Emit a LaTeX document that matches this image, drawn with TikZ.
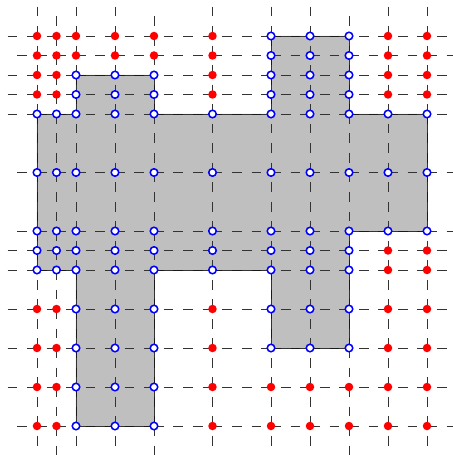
\documentclass[tikz,border=0pt]{standalone}
\usepackage{tikz}

\begin{document}
\begin{tikzpicture}[
	x = 0.5cm, y = -0.5cm,
	gridline/.style={black!80, line width=0.6pt, dash pattern=on 0.25cm off 0.25cm},
	region/.style={fill=black!25, draw=black!90, line width=0.7pt},
	inpt/.style={circle, draw=blue, fill=white, line width=1.1pt, inner sep=0pt, minimum size=5.5pt},
	outpt/.style={circle, fill=red, inner sep=0pt, minimum size=6.2pt},
	]
	\useasboundingbox (-1.897,-1.846) rectangle (21.333,21.487);
	
	%Region
	\draw[region] (0,4) -- (2,4) -- (2,2) -- (6,2) -- (6,4) -- (12,4) -- (12,0) -- (16,0) -- (16,4) -- (20,4) -- (20,10) -- (16,10) -- (16,16) -- (12,16) -- (12,12) -- (6,12) -- (6,20) -- (2,20) -- (2,12) -- (0,12) -- cycle;
	
	%Grid
	\foreach \x/\ph in {0/0cm,1/0.25cm,2/0cm,4/0cm,6/0.25cm,9/0cm,12/0cm,14/0cm,16/0.25cm,18/0cm,20/0cm}
		\draw[gridline, dash phase=\ph] (\x,-1.5) -- (\x,21.5);
	\foreach \y/\ph in {0/0cm,1/0.25cm,2/0cm,3/0cm,4/0cm,7/0.25cm,10/0.25cm,11/0cm,12/0cm,14/0cm,16/0cm,18/0cm,20/0.25cm}
		\draw[gridline, dash phase=\ph] (-1.5,\y) -- (21.5,\y);
	
	%Points
	\foreach \x in {0,1,2,4,6,9,12,14,16,18,20}
		\foreach \y in {0,1,2,3,4,7,10,11,12,14,16,18,20} {
			\pgfmathtruncatemacro\inside{((\y>=4)&&(\y<=10)) || ((\x<=16)&&(\y>=10)&&(\y<=12)) || ((\x>=2)&&(\x<=6)&&(\y>=2)) || ((\x>=12)&&(\x<=16)&&(\y<=16))}
			\ifnum\inside=1
				\node[inpt]  (p-\x-\y) at (\x,\y) {};
			\else
				\node[outpt] (p-\x-\y) at (\x,\y) {};
			\fi
		}
\end{tikzpicture}
\end{document}
